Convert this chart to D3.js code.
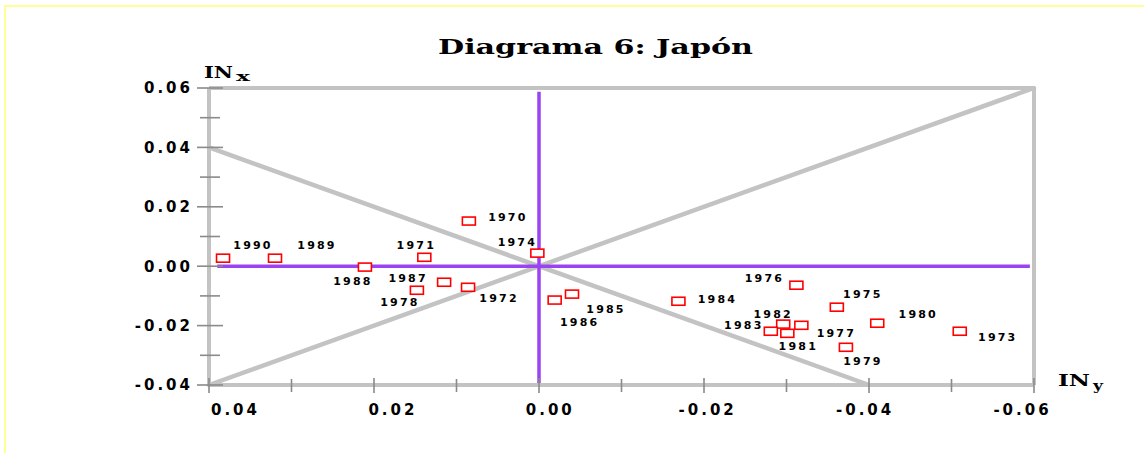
<!DOCTYPE html>
<html>
<head>
<meta charset="utf-8">
<script src="https://cdn.jsdelivr.net/npm/d3@7"></script>
<style>
  html, body { margin: 0; padding: 0; background: #ffffff; }
  svg { display: block; }
</style>
</head>
<body>
<script>
// ---- Data ----
const years = [1970, 1971, 1972, 1973, 1974, 1975, 1976, 1977, 1978, 1979, 1980,
               1981, 1982, 1983, 1984, 1985, 1986, 1987, 1988, 1989, 1990];
const inY = [0.0085, 0.0139, 0.0086, -0.0510, 0.0002, -0.0361, -0.0312, -0.0318, 0.0148, -0.0372, -0.0410,
             -0.0301, -0.0296, -0.0281, -0.0169, -0.0040, -0.0019, 0.0115, 0.0211, 0.0320, 0.0383];
const inX = [0.0152, 0.0030, -0.0071, -0.0219, 0.0044, -0.0138, -0.0064, -0.0199, -0.0081, -0.0273, -0.0192,
             -0.0226, -0.0195, -0.0219, -0.0118, -0.0094, -0.0114, -0.0054, -0.0003, 0.0027, 0.0027];
// label placement offsets (pixels, layout only)
const labelDx = [38, -9, 30, 37, -21, 25, -33, 34, -18, 16, 40, 10, -11, -28, 38, 33, 24, -37, -13, 41, 29];
const labelDy = [-4, -12, 11, 6, -11, -13, -7, 8, 12, 14, -9, 13, -10, -6, -2, 15, 22, -4, 14, -13, -13];

const xMajorTicks = [0.04, 0.02, 0.00, -0.02, -0.04, -0.06];
const xMinorTicks = [0.03, 0.01, -0.01, -0.03, -0.05];
const yMajorTicks = [0.06, 0.04, 0.02, 0.00, -0.02, -0.04];
const yMinorTicks = [0.05, 0.03, 0.01, -0.01, -0.03];
const titleText = "Diagrama 6: Japón";

// ---- Layout ----
const W = 1144, H = 453;
const svg = d3.select("body").append("svg").attr("width", W).attr("height", H);

// yellow frame
svg.append("rect").attr("x", 5).attr("y", 6).attr("width", 1160).attr("height", 470)
  .attr("fill", "none").attr("stroke", "#ffff99").attr("stroke-width", 2);

const x = d3.scaleLinear().domain([0.04, -0.06]).range([209, 1034]);
const y = d3.scaleLinear().domain([0.06, -0.04]).range([88, 385]);
// x tick labels sit on a slightly compressed scale in the reference
const xLab = d3.scaleLinear().domain([0.04, -0.06]).range([234, 1021]);

const grey = "#c3c3c3";
const tickGrey = "#8a8a8a";
const purple = "#9b42f2";

const fmt = v => (Math.abs(v) < 1e-9 ? "0.00" : (v < 0 ? "-" : "") + Math.abs(v).toFixed(2));

// diagonals
const diag = svg.append("g").attr("stroke", grey).attr("stroke-width", 4.5).attr("stroke-linecap", "round");
diag.append("line").attr("x1", x(0.04)).attr("y1", y(0.04)).attr("x2", x(-0.04)).attr("y2", y(-0.04));
diag.append("line").attr("x1", x(0.04)).attr("y1", y(-0.04)).attr("x2", x(-0.06)).attr("y2", y(0.06));

// purple zero lines
svg.append("line").attr("x1", x(0.039)).attr("x2", x(-0.0595)).attr("y1", y(0)).attr("y2", y(0))
  .attr("stroke", purple).attr("stroke-width", 3.5);
svg.append("line").attr("x1", x(0)).attr("x2", x(0)).attr("y1", y(0.0587)).attr("y2", y(-0.0393))
  .attr("stroke", purple).attr("stroke-width", 3.5);

// frame lines (axes, top, right)
const frame = svg.append("g").attr("stroke", grey).attr("stroke-width", 4);
frame.append("line").attr("x1", x(0.04)).attr("x2", x(-0.06)).attr("y1", y(-0.04)).attr("y2", y(-0.04));
frame.append("line").attr("x1", x(0.04)).attr("x2", x(-0.06)).attr("y1", y(0.06)).attr("y2", y(0.06));
frame.append("line").attr("x1", x(0.04)).attr("x2", x(0.04)).attr("y1", y(0.06)).attr("y2", y(-0.04));
frame.append("line").attr("x1", x(-0.06)).attr("x2", x(-0.06)).attr("y1", y(0.06)).attr("y2", y(-0.04));

// y ticks
const ax = x(0.04), ay = y(-0.04);
svg.append("g").selectAll("line").data(yMajorTicks).join("line")
  .attr("x1", ax - 12).attr("x2", ax + 14).attr("y1", d => y(d)).attr("y2", d => y(d))
  .attr("stroke", tickGrey).attr("stroke-width", 1.6);
svg.append("g").selectAll("line").data(yMinorTicks).join("line")
  .attr("x1", ax - 9).attr("x2", ax + 11).attr("y1", d => y(d)).attr("y2", d => y(d))
  .attr("stroke", tickGrey).attr("stroke-width", 1.6);
// x ticks
svg.append("g").selectAll("line").data(xMajorTicks).join("line")
  .attr("y1", ay - 7).attr("y2", ay + 8).attr("x1", d => x(d)).attr("x2", d => x(d))
  .attr("stroke", tickGrey).attr("stroke-width", 1.6);
svg.append("g").selectAll("line").data(xMinorTicks).join("line")
  .attr("y1", ay - 6).attr("y2", ay + 7).attr("x1", d => x(d)).attr("x2", d => x(d))
  .attr("stroke", tickGrey).attr("stroke-width", 1.6);

// tick labels
const tickFont = "'DejaVu Sans', sans-serif";
svg.append("g").selectAll("text").data(yMajorTicks).join("text")
  .attr("x", 193).attr("y", d => y(d)).attr("dy", "0.36em")
  .attr("text-anchor", "end")
  .attr("font-family", tickFont).attr("font-weight", "bold").attr("font-size", 15)
  .attr("letter-spacing", 3).attr("fill", "#000")
  .text(fmt);
svg.append("g").selectAll("text").data(xMajorTicks).join("text")
  .attr("x", d => xLab(d) + 1.5).attr("y", 410).attr("dy", "0.36em")
  .attr("text-anchor", "middle")
  .attr("font-family", tickFont).attr("font-weight", "bold").attr("font-size", 15)
  .attr("letter-spacing", 3).attr("fill", "#000")
  .text(fmt);

// axis names
const serif = "'DejaVu Serif', serif";
svg.append("text").attr("x", 204).attr("y", 78).attr("font-family", serif).attr("font-weight", "bold")
  .attr("font-size", 16).attr("textLength", 29).attr("lengthAdjust", "spacingAndGlyphs").text("IN");
svg.append("text").attr("x", 236).attr("y", 81).attr("font-family", serif).attr("font-weight", "bold")
  .attr("font-size", 13).attr("textLength", 14).attr("lengthAdjust", "spacingAndGlyphs").text("x");
svg.append("text").attr("x", 1058).attr("y", 386).attr("font-family", serif).attr("font-weight", "bold")
  .attr("font-size", 16).attr("textLength", 32).attr("lengthAdjust", "spacingAndGlyphs").text("IN");
svg.append("text").attr("x", 1093).attr("y", 390).attr("font-family", serif).attr("font-weight", "bold")
  .attr("font-size", 13).attr("textLength", 10).attr("lengthAdjust", "spacingAndGlyphs").text("y");

// title
svg.append("text").attr("x", 438).attr("y", 54).attr("font-family", serif).attr("font-weight", "bold")
  .attr("font-size", 20).attr("textLength", 315).attr("lengthAdjust", "spacingAndGlyphs")
  .text(titleText);

// points
const pts = years.map((yr, i) => ({ yr, vx: inY[i], vy: inX[i], dx: labelDx[i], dy: labelDy[i] }));
svg.append("g").selectAll("rect").data(pts).join("rect")
  .attr("x", d => x(d.vx) - 6.5).attr("y", d => y(d.vy) - 4)
  .attr("width", 13).attr("height", 8)
  .attr("fill", "#ffffff").attr("stroke", "#ff0000").attr("stroke-width", 1.6);
svg.append("g").selectAll("text").data(pts).join("text")
  .attr("x", d => x(d.vx) + d.dx + 1).attr("y", d => y(d.vy) + d.dy).attr("dy", "0.36em")
  .attr("text-anchor", "middle")
  .attr("font-family", tickFont).attr("font-weight", "bold").attr("font-size", 11)
  .attr("letter-spacing", 2.2).attr("fill", "#000")
  .text(d => d.yr);
</script>
</body>
</html>
